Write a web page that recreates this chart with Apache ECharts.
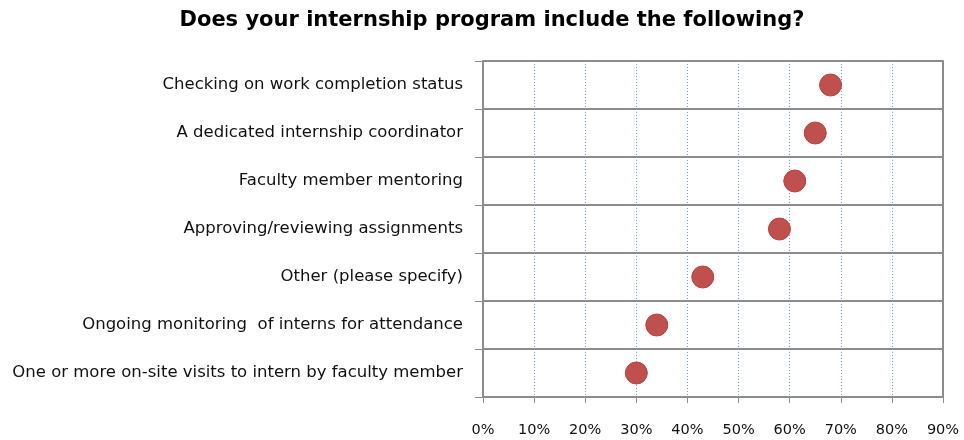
<!DOCTYPE html>
<html>
<head>
<meta charset="utf-8">
<script src="https://cdn.jsdelivr.net/npm/echarts@6/dist/echarts.min.js"></script>
<style>
  html, body { margin: 0; padding: 0; background: #fff; }
  #chart { width: 964px; height: 440px; }
</style>
</head>
<body>
<div id="chart"></div>
<script>
// top to bottom
const categories = [
  'Checking on work completion status',
  'A dedicated internship coordinator',
  'Faculty member mentoring',
  'Approving/reviewing assignments',
  'Other (please specify)',
  'Ongoing monitoring  of interns for attendance',
  'One or more on-site visits to intern by faculty member'
]
const values = [68, 65, 61, 58, 43, 34, 30]

const gray = '#8c8c8c'
const font = 'DejaVu Sans'

const chart = echarts.init(document.getElementById('chart'))
chart.setOption({
  animation: false,
  title: {
    text: 'Does your internship program include the following?',
    left: 487,
    top: 5,
    textAlign: 'center',
    textStyle: { fontFamily: font, fontWeight: 'bold', fontSize: 21, color: '#000' }
  },
  grid: { left: 483, right: 21, top: 61, bottom: 43 },
  xAxis: {
    type: 'value',
    min: 0,
    max: 90,
    interval: 10,
    axisLine: { show: true, lineStyle: { color: gray, width: 2 } },
    axisTick: { show: true, length: 6, lineStyle: { color: gray, width: 1 } },
    axisLabel: { formatter: '{value}%', margin: 26, fontFamily: font, fontSize: 14.5, color: '#111' },
    splitLine: { show: true, lineStyle: { color: '#6f9bd6', type: [1, 2], width: 1 } }
  },
  yAxis: [
    {
      type: 'category',
      data: categories,
      inverse: true,
      axisLine: { show: true, lineStyle: { color: gray, width: 2 } },
      axisTick: { show: true, length: 8, lineStyle: { color: gray, width: 1 } },
      axisLabel: { margin: 20, fontFamily: font, fontSize: 16.5, color: '#111' },
      splitLine: { show: true, lineStyle: { color: gray, width: 2 } }
    },
    {
      type: 'category',
      data: categories,
      inverse: true,
      position: 'right',
      axisLine: { show: true, lineStyle: { color: gray, width: 2 } },
      axisTick: { show: false },
      axisLabel: { show: false },
      splitLine: { show: false }
    }
  ],
  series: [
    {
      type: 'scatter',
      data: values,
      symbolSize: 22,
      itemStyle: { color: '#c0504d', borderColor: '#b4453f', borderWidth: 1, opacity: 1 }
    }
  ]
})
</script>
</body>
</html>
